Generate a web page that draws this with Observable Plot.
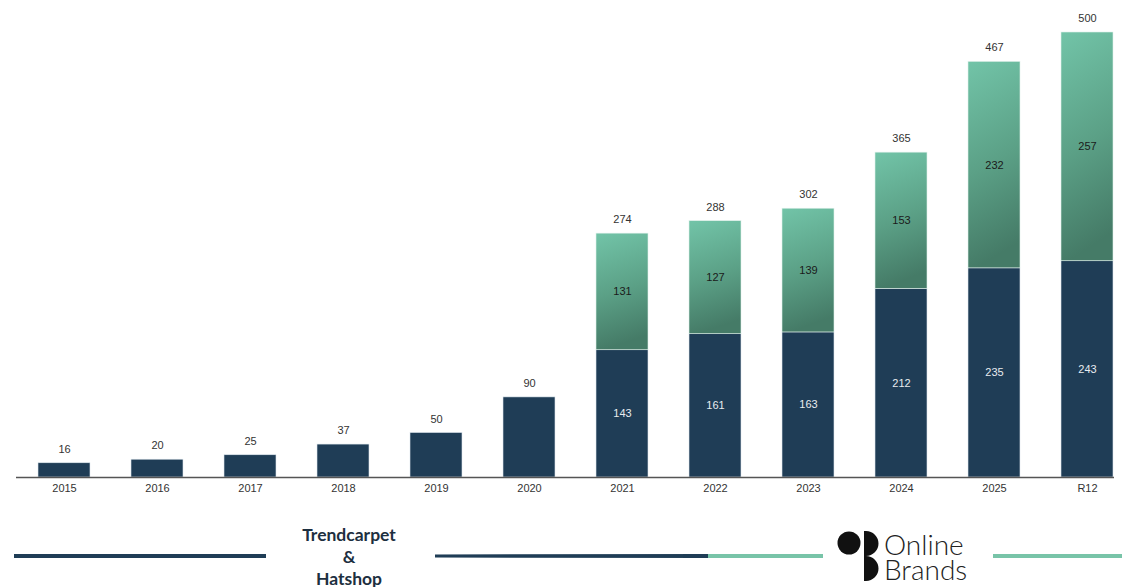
<!DOCTYPE html>
<html>
<head>
<meta charset="utf-8">
<script src="https://cdn.jsdelivr.net/npm/d3@7"></script>
<script src="https://cdn.jsdelivr.net/npm/@observablehq/plot@0.6"></script>
<style>
  html, body { margin: 0; padding: 0; background: #fff; overflow: hidden; }
  #chart svg { display: block; }
  #footer svg { display: block; }
</style>
</head>
<body>
<div id="chart"></div>
<div id="footer"></div>
<script>
// ---- data ----
const years = ["2015","2016","2017","2018","2019","2020","2021","2022","2023","2024","2025","R12"];
const baseValues = [16, 20, 25, 37, 50, 90, 143, 161, 163, 212, 235, 243];
const addedValues = [0, 0, 0, 0, 0, 0, 131, 127, 139, 153, 232, 257];
const totals = [16, 20, 25, 37, 50, 90, 274, 288, 302, 365, 467, 500];
const footerTitle = ["Trendcarpet", "&", "Hatshop"];
const logoText = ["Online", "Brands"];

const rows = years.map((year, i) => ({
  year,
  base: baseValues[i],
  added: addedValues[i],
  total: totals[i],
  split: addedValues[i] > 0
}));
const splitRows = rows.filter(d => d.split);

const navy = "#1f3d56";
const font = "'Liberation Sans', Arial, sans-serif";

const chart = Plot.plot({
  width: 1122,
  height: 510,
  marginLeft: 37,
  marginRight: 8,
  marginTop: 32,
  marginBottom: 33,
  style: { fontFamily: font, fontSize: "11px", color: "#333", background: "#fff" },
  x: { domain: years, paddingInner: 0.44, paddingOuter: 0, label: null },
  y: { domain: [0, 500], axis: null },
  marks: [
    Plot.barY(rows, { x: "year", y1: 0, y2: "base", fill: navy, stroke: "#dfe8ee", strokeWidth: 0.6 }),
    Plot.barY(splitRows, { x: "year", y1: "base", y2: "total", fill: "url(#greenGrad)", stroke: "#dff0ea", strokeWidth: 0.6 }),
    Plot.ruleY([0], { stroke: "#555", strokeWidth: 1.5, insetLeft: -21 }),
    Plot.axisX({ tickSize: 0, tickPadding: 7, fontSize: 11, fill: "#333" }),
    Plot.text(rows, { x: "year", y: "total", text: d => String(d.total), dy: -14, fill: "#333", fontSize: 11 }),
    Plot.text(splitRows, { x: "year", y: d => d.base / 2, text: d => String(d.base), fill: "#e8ecef", fontSize: 11 }),
    Plot.text(splitRows, { x: "year", y: d => d.base + d.added / 2, text: d => String(d.added), fill: "#1a1a1a", fontSize: 11 })
  ]
});

// gradient definition for the green segment
const ns = "http://www.w3.org/2000/svg";
const defs = document.createElementNS(ns, "defs");
defs.innerHTML = `
  <linearGradient id="greenGrad" x1="0" y1="0" x2="0.15" y2="1">
    <stop offset="0" stop-color="#72c4a8"/>
    <stop offset="0.55" stop-color="#5b a086"/>
    <stop offset="1" stop-color="#457b67"/>
  </linearGradient>`.replace("#5b a086", "#5ba086");
chart.prepend(defs);
document.getElementById("chart").appendChild(chart);

// ---- footer (title and logo) ----
const f = d3.select("#footer").append("svg").attr("width", 1122).attr("height", 77);
const lineY = 556 - 510;
f.append("line").attr("x1", 14).attr("x2", 266).attr("y1", lineY).attr("y2", lineY).attr("stroke", navy).attr("stroke-width", 4);
f.append("path").attr("d", `M435,${lineY - 1.5} L708,${lineY - 2} L708,${lineY + 2} L435,${lineY + 1.5} Z`).attr("fill", navy);
f.append("line").attr("x1", 708).attr("x2", 823).attr("y1", lineY).attr("y2", lineY).attr("stroke", "#78c4a8").attr("stroke-width", 4);
f.append("line").attr("x1", 993).attr("x2", 1122).attr("y1", lineY).attr("y2", lineY).attr("stroke", "#78c4a8").attr("stroke-width", 4);

f.selectAll("text.title").data(footerTitle).join("text")
  .attr("class", "title")
  .attr("x", 349)
  .attr("y", (d, i) => 31 + i * 22)
  .attr("text-anchor", "middle")
  .attr("font-family", "Lato, 'Open Sans', sans-serif")
  .attr("font-weight", 700)
  .attr("font-size", 17.5)
  .attr("fill", "#1d2f40")
  .text(d => d);

// logo mark
f.append("circle").attr("cx", 849).attr("cy", 543 - 510).attr("r", 11.5).attr("fill", "#111");
f.append("path")
  .attr("d", "M864,21 L864,71 L866,71 A12.5,12.5 0 0 0 866,46 A12.5,12.5 0 0 0 866,21 Z")
  .attr("fill", "#111");
const logo = f.append("text")
  .attr("font-family", "Lato, Inter, sans-serif")
  .attr("font-weight", 300)
  .attr("font-size", 28)
  .attr("fill", "#222");
logo.selectAll("tspan").data(logoText).join("tspan")
  .attr("x", 884)
  .attr("y", (d, i) => 44.5 + i * 25)
  .text(d => d);
</script>
</body>
</html>
